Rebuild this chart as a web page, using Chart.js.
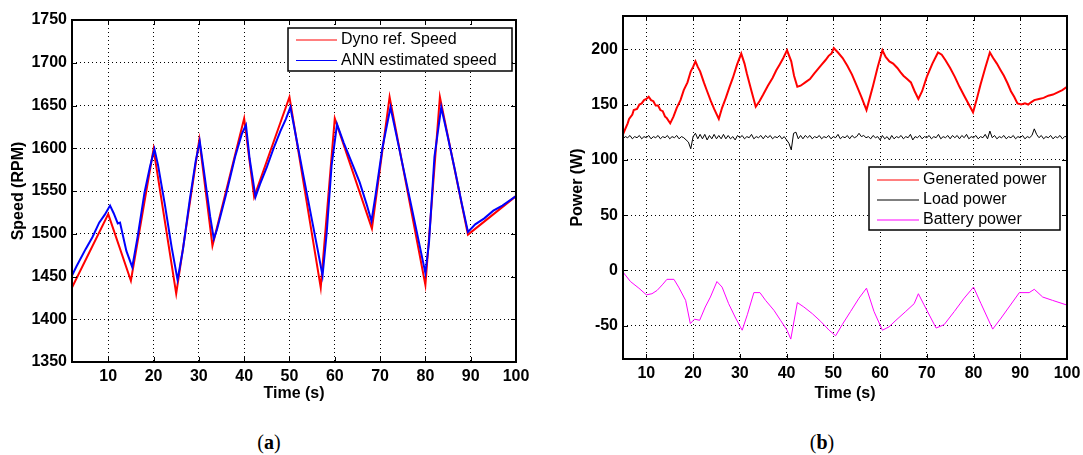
<!DOCTYPE html>
<html>
<head>
<meta charset="utf-8">
<script src="https://cdn.jsdelivr.net/npm/chart.js@4.4.1/dist/chart.umd.min.js"></script>
<style>
  body { margin: 0; background: #fff; width: 1083px; height: 455px; position: relative; overflow: hidden; }
  #speedChart { position: absolute; left: 0; top: 0; }
  #powerChart { position: absolute; left: 540px; top: 0; }
  .cap { position: absolute; top: 431px; width: 60px; text-align: center; line-height: 24px;
         font: 20px "Liberation Serif", "DejaVu Serif", serif; color: #000; }
</style>
</head>
<body>
<canvas id="speedChart" width="540" height="410"></canvas>
<canvas id="powerChart" width="543" height="410"></canvas>
<div class="cap" style="left:239px">(<b>a</b>)</div>
<div class="cap" style="left:792px">(<b>b</b>)</div>
<script>
// ---- (a) speed ----
const speedTicksX = [10, 20, 30, 40, 50, 60, 70, 80, 90, 100];
const speedTicksY = [1350, 1400, 1450, 1500, 1550, 1600, 1650, 1700, 1750];

const dynoTime = [2, 10, 15, 20, 25, 30.1, 33, 40, 42.2, 46, 50, 56.9, 60, 68.2, 72.1, 80, 83.2, 89.4, 100];
const dynoSpeed = [1437, 1523, 1445, 1599, 1430, 1610, 1486, 1635, 1543, 1600, 1660, 1437, 1635, 1506, 1660, 1440, 1660, 1499, 1544];

const annTime = [2, 3, 5, 6.5, 8, 9.2, 10.4, 11.2, 12.1, 12.6, 14, 15.3, 16.5, 18, 19.2, 20.2, 21, 22.5, 24, 25.3,
  26.5, 28, 29.3, 30.2, 31, 32.5, 33.3, 34, 36, 38, 39.5, 40.4, 41.2, 42.5, 43.5, 45, 46.5, 48, 49.2, 50.2,
  51, 53, 55, 56.2, 57.3, 58.2, 59.3, 60.5, 62, 64, 65.5, 67, 68.1, 69, 70.5, 72.3, 73.5, 75, 77, 78.5,
  80, 80.8, 82, 83.5, 85, 86.5, 88, 89.4, 91, 93, 95, 97, 100];
const annSpeed = [1451, 1462, 1482, 1496, 1513, 1522, 1533, 1524, 1512, 1513, 1480, 1461, 1497, 1548, 1578, 1599, 1580, 1534, 1484, 1446,
  1482, 1540, 1585, 1608, 1578, 1520, 1494, 1505, 1546, 1590, 1617, 1627, 1588, 1543, 1558, 1578, 1600, 1620, 1634, 1648,
  1626, 1570, 1515, 1482, 1451, 1500, 1580, 1628, 1606, 1580, 1560, 1535, 1515, 1545, 1600, 1648, 1618, 1580, 1530, 1492,
  1454, 1490, 1590, 1648, 1612, 1575, 1536, 1502, 1511, 1518, 1527, 1533, 1544];

// ---- (b) power ----
const powerTicksX = [10, 20, 30, 40, 50, 60, 70, 80, 90, 100];
const powerTicksY = [-50, 0, 50, 100, 150, 200];

const genTime = [5, 5.4, 6, 6.3, 7, 7.3, 8, 8.5, 9, 9.5, 10, 10.5, 11, 11.5, 12, 12.5, 13, 13.5, 14, 14.3,
  15.1, 15.8, 16.5, 17.3, 18, 18.8, 19.5, 20, 20.5, 21, 21.5, 22.3, 23, 23.8, 24.5, 25.5, 26.2, 27, 27.8, 28.5,
  29.4, 30.3, 31, 31.5, 32.5, 33.4, 34.2, 35, 36, 37, 37.8, 38.5, 39.3, 40.1, 41, 41.6, 42.3, 43, 44, 45,
  45.9, 46.7, 47.5, 48.3, 49, 49.6, 50.1, 51, 52, 53, 54, 55, 56, 57.1, 57.8, 58.5, 59.5, 60.5, 61.2, 62,
  62.8, 63.7, 64.4, 65, 65.8, 66.6, 67.4, 68.2, 69, 70, 71.2, 72.4, 73.2, 74, 75, 76, 77, 78, 79, 79.9,
  80.7, 81.5, 82.5, 83.5, 84.2, 85, 85.8, 86.5, 87.3, 88, 88.7, 89.4, 90.2, 91, 91.7, 92.3, 93, 94, 95, 96,
  97, 98, 99, 100];
const genPower = [123, 127, 133, 137, 141, 145, 146, 150, 151, 154, 155, 157, 154, 153, 149, 149, 145, 144, 139, 138,
  133, 139, 147, 154, 163, 170, 180, 184, 189, 184, 180, 170, 162, 153, 146, 137, 147, 156, 166, 174,
  186, 196, 187, 178, 162, 148, 153, 159, 167, 174, 181, 186, 192, 199, 189, 176, 166, 167, 170, 173,
  178, 182, 186, 190, 194, 196, 201, 197, 192, 185, 177, 167, 157, 145, 156, 167, 184, 199, 193, 189,
  187, 183, 179, 176, 173, 170, 162, 155, 162, 175, 187, 197, 195, 190, 183, 175, 166, 158, 150, 143,
  155, 168, 183, 197, 192, 187, 181, 176, 169, 162, 157, 151, 150, 151, 150, 152, 154, 155, 156, 158,
  159, 161, 163, 166];

// load power sampled every 0.5 s from 5 s
const loadStart = 5, loadStep = 0.5;
const loadPower = [
  119, 121, 120, 122, 119, 121, 120, 122, 119, 121,
  120, 122, 119, 121, 120, 122, 119, 121, 120, 122,
  119, 121, 120, 122, 119, 121, 120, 118, 116, 110,
  121, 124, 119, 123, 119, 123, 118, 122, 119, 123,
  119, 122, 119, 123, 119, 122, 119, 121, 118, 122,
  120, 122, 119, 121, 120, 123, 119, 121, 120, 122,
  119, 122, 120, 122, 119, 121, 120, 122, 119, 121,
  118, 115, 109, 124, 125, 119, 122, 119, 122, 120,
  122, 119, 121, 120, 122, 119, 121, 120, 122, 119,
  121, 120, 123, 119, 121, 120, 122, 119, 122, 120,
  121, 124, 121, 122, 120, 121, 119, 122, 120, 121,
  118, 122, 119, 121, 118, 122, 119, 121, 120, 122,
  119, 121, 120, 123, 118, 121, 120, 122, 119, 121,
  120, 122, 119, 121, 120, 123, 119, 121, 120, 122,
  119, 122, 120, 122, 119, 122, 120, 123, 119, 121,
  120, 122, 119, 121, 120, 123, 119, 126, 120, 122,
  119, 121, 120, 122, 119, 121, 120, 122, 119, 121,
  120, 122, 119, 121, 120, 122, 128, 123, 120, 122,
  119, 121, 120, 122, 119, 121, 120, 122, 119, 121,
  121];

const batTime = [5.1, 6.6, 8.4, 10, 11.2, 12.3, 13.4, 14.4, 15.9, 16.9, 18.4, 19.4, 20.3, 21.4, 22.6, 23.7, 25.1, 26.2, 27.6, 29.1,
  30.5, 31.6, 33, 34.3, 35.5, 37.3, 38.7, 40.1, 40.9, 42.3, 43.7, 45.5, 47.3, 49.1, 50.5, 51.9, 53.7, 55.5, 57.1, 58.7,
  60.5, 61.9, 63.4, 65.5, 67.3, 68.2, 69.4, 72, 73.7, 75.9, 78, 80, 81.6, 84.1, 85.9, 87.6, 89.8, 91.9, 93, 94.8,
  96.9, 99.8];
const batPower = [-2, -10, -16, -22, -21, -18, -13, -8, -8, -15, -27, -48, -44, -45, -33, -24, -10, -15, -30, -43,
  -54, -40, -20, -20, -27, -36, -45, -54, -62, -29, -33, -39, -46, -54, -59, -49, -37, -25, -16, -37,
  -54, -51, -45, -37, -30, -21, -31, -52, -49, -37, -25, -15, -30, -53, -43, -33, -20, -20, -17, -24,
  -27, -31];

function pairs(xs, ys) {
  return ys.map((y, i) => ({ x: xs[i], y: y }));
}

const tickFont = { family: "Liberation Sans, Arial, sans-serif", size: 16, weight: "bold" };

// black box round the plot + inward tick marks
const axesFrame = {
  id: "axesFrame",
  afterDatasetsDraw(chart) {
    const { ctx, chartArea: a, scales } = chart;
    ctx.save();
    ctx.setLineDash([]);
    ctx.strokeStyle = "#000";
    ctx.lineWidth = 1;
    ctx.beginPath();
    scales.x.ticks.forEach(t => {
      const px = Math.round(scales.x.getPixelForValue(t.value)) + 0.5;
      ctx.moveTo(px, a.bottom); ctx.lineTo(px, a.bottom - 5);
      ctx.moveTo(px, a.top); ctx.lineTo(px, a.top + 5);
    });
    scales.y.ticks.forEach(t => {
      const py = Math.round(scales.y.getPixelForValue(t.value)) + 0.5;
      ctx.moveTo(a.left, py); ctx.lineTo(a.left + 5, py);
      ctx.moveTo(a.right, py); ctx.lineTo(a.right - 5, py);
    });
    ctx.stroke();
    ctx.lineWidth = 2;
    ctx.strokeRect(a.left, a.top, a.right - a.left, a.bottom - a.top);
    ctx.restore();
  }
};

// legend drawn inside the plot, MATLAB style
const boxLegend = {
  id: "boxLegend",
  afterDraw(chart, args, opts) {
    const ctx = chart.ctx;
    ctx.save();
    ctx.fillStyle = "#fff";
    ctx.fillRect(opts.x, opts.y, opts.w, opts.h);
    ctx.strokeStyle = "#000";
    ctx.lineWidth = 1.5;
    ctx.strokeRect(opts.x, opts.y, opts.w, opts.h);
    ctx.font = "16px Liberation Sans, Arial, sans-serif";
    ctx.textBaseline = "middle";
    chart.data.datasets.forEach((ds, i) => {
      const cy = opts.y + opts.first + i * opts.row;
      ctx.strokeStyle = ds.borderColor;
      ctx.lineWidth = 1;
      ctx.beginPath();
      ctx.moveTo(opts.x + 8, cy); ctx.lineTo(opts.x + 8 + opts.lineLen, cy);
      ctx.stroke();
      ctx.fillStyle = "#000";
      ctx.fillText(ds.label, opts.x + 12 + opts.lineLen, cy);
    });
    ctx.restore();
  }
};

function xScale(min, ticksArr, height) {
  return {
    type: "linear", min: min, max: 100,
    afterBuildTicks: s => { s.ticks = ticksArr.map(v => ({ value: v })); },
    afterFit: s => { s.height = height; s.paddingLeft = 0; s.paddingRight = 0; },
    grid: { color: "#000", lineWidth: 1, drawTicks: false },
    border: { display: false, dash: [1, 3] },
    ticks: { font: tickFont, color: "#000", padding: 5, maxRotation: 0, callback: v => String(v) },
    title: { display: true, text: "Time (s)", font: tickFont, color: "#000", padding: { top: 0, bottom: 7 } }
  };
}

function yScale(min, max, ticksArr, width, label, titlePad) {
  return {
    type: "linear", min: min, max: max,
    afterBuildTicks: s => { s.ticks = ticksArr.map(v => ({ value: v })); },
    afterFit: s => { s.width = width; s.paddingTop = 0; s.paddingBottom = 0; },
    grid: { color: "#000", lineWidth: 1, drawTicks: false },
    border: { display: false, dash: [1, 3] },
    ticks: { font: tickFont, color: "#000", padding: 5, callback: v => String(v) },
    title: { display: true, text: label, font: tickFont, color: "#000", padding: { top: titlePad, bottom: 0 } }
  };
}

new Chart(document.getElementById("speedChart").getContext("2d"), {
  type: "line",
  data: {
    datasets: [
      { label: "Dyno ref. Speed", data: pairs(dynoTime, dynoSpeed), borderColor: "#ff0000", borderWidth: 2, pointRadius: 0, tension: 0, order: 2 },
      { label: "ANN estimated speed", data: pairs(annTime, annSpeed), borderColor: "#0000ff", borderWidth: 2, pointRadius: 0, tension: 0, order: 1 }
    ]
  },
  options: {
    responsive: false,
    animation: false,
    layout: { padding: { left: 0, top: 20, right: 24, bottom: 0 } },
    scales: {
      x: xScale(2, speedTicksX, 48),
      y: yScale(1350, 1750, speedTicksY, 72, "Speed (RPM)", 9)
    },
    plugins: {
      legend: { display: false },
      tooltip: { enabled: false },
      boxLegend: { x: 288, y: 28, w: 224, h: 43, first: 12, row: 20.5, lineLen: 41 }
    }
  },
  plugins: [axesFrame, boxLegend]
});

new Chart(document.getElementById("powerChart").getContext("2d"), {
  type: "line",
  data: {
    datasets: [
      { label: "Generated power", data: pairs(genTime, genPower), borderColor: "#ff0000", borderWidth: 2, pointRadius: 0, tension: 0 },
      { label: "Load power", data: loadPower.map((v, i) => ({ x: loadStart + i * loadStep, y: v })), borderColor: "#000000", borderWidth: 1, pointRadius: 0, tension: 0 },
      { label: "Battery power", data: pairs(batTime, batPower), borderColor: "#ff00ff", borderWidth: 1, pointRadius: 0, tension: 0 }
    ]
  },
  options: {
    responsive: false,
    animation: false,
    layout: { padding: { left: 0, top: 16, right: 16, bottom: 0 } },
    scales: {
      x: xScale(5, powerTicksX, 51),
      y: yScale(-80, 230, powerTicksY, 83, "Power (W)", 28)
    },
    plugins: {
      legend: { display: false },
      tooltip: { enabled: false },
      boxLegend: { x: 329, y: 167, w: 191, h: 63, first: 13, row: 20, lineLen: 42 }
    }
  },
  plugins: [axesFrame, boxLegend]
});
</script>
</body>
</html>
